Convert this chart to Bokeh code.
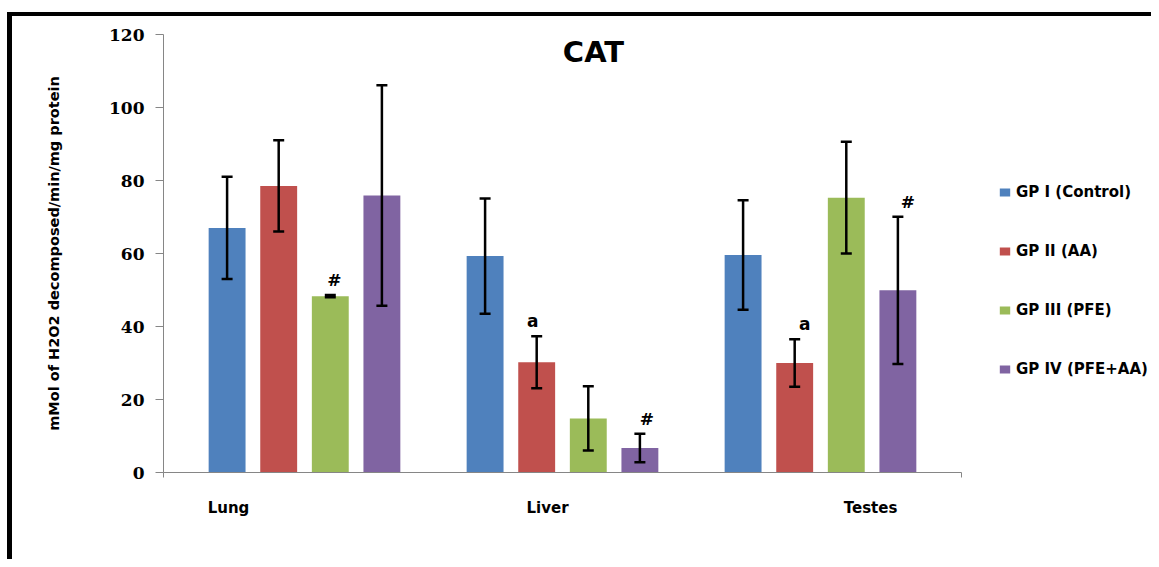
from bokeh.plotting import figure
from bokeh.models import (ColumnDataSource, Range1d, FixedTicker, Whisker, TeeHead,
                          Label, Legend, LegendItem, CustomJSTickFormatter)
from bokeh.embed import file_html
from bokeh.resources import INLINE

# ---- data ----
categories = ["Lung", "Liver", "Testes"]
groups = ["GP I (Control)", "GP II (AA)", "GP III (PFE)", "GP IV (PFE+AA)"]
means = {
    "GP I (Control)": [67.0, 59.3, 59.6],
    "GP II (AA)": [78.5, 30.2, 30.0],
    "GP III (PFE)": [48.3, 14.8, 75.3],
    "GP IV (PFE+AA)": [75.9, 6.7, 49.9],
}
errors = {
    "GP I (Control)": [14.0, 15.8, 15.0],
    "GP II (AA)": [12.5, 7.1, 6.5],
    "GP III (PFE)": [0.3, 8.8, 15.3],
    "GP IV (PFE+AA)": [30.2, 3.9, 20.2],
}
# significance markers: (category index, group index, symbol)
marker_cat = [0, 1, 1, 2, 2]
marker_grp = [2, 1, 3, 1, 3]
marker_txt = ["#", "a", "#", "a", "#"]
y_ticks = [0, 20, 40, 60, 80, 100, 120]

# ---- styles ----
colors = ["#4F81BD", "#C0504D", "#9BBB59", "#8064A2"]
grp_offsets = [-0.3, -0.1, 0.1, 0.3]
bar_w = 0.143
cat_label_shift = [-0.2946, -0.058, 0.194]
marker_dx = [4, -4, 7, 10, 10]
marker_font = ["DejaVu Serif", "DejaVu Sans", "DejaVu Serif", "DejaVu Sans", "DejaVu Serif"]
X0, X1 = -0.5465, 2.5465      # category axis extent
XF = 3.283                    # frame extends over the legend area

W, H = 1151, 559
p = figure(width=W, height=H, output_backend="svg", toolbar_location=None,
           x_range=Range1d(X0, XF), y_range=Range1d(0, 120),
           min_border_left=163, min_border_right=0, min_border_top=34,
           min_border_bottom=87)
p.outline_line_color = None
p.grid.visible = False
p.background_fill_color = None
p.border_fill_color = None
p.styles = {
    "background-color": "white",
    "background-image": "linear-gradient(#000,#000), linear-gradient(#000,#000)",
    "background-size": "1152px 4px, 5px 555px",
    "background-position": "7px 12px, 7px 12px",
    "background-repeat": "no-repeat",
}

legend_items = []
for gi, g in enumerate(groups):
    xs = [ci + grp_offsets[gi] for ci in range(len(categories))]
    src = ColumnDataSource(dict(x=xs, top=means[g],
                                upper=[m + e for m, e in zip(means[g], errors[g])],
                                lower=[m - e for m, e in zip(means[g], errors[g])]))
    r = p.vbar(x="x", top="top", width=bar_w, bottom=0, source=src,
               fill_color=colors[gi], line_color=None)
    legend_items.append(LegendItem(label=g, renderers=[r]))
    wh = Whisker(base="x", upper="upper", lower="lower", source=src, level="overlay",
                 line_color="black", line_width=2.5,
                 upper_head=TeeHead(size=11, line_width=2.5, line_color="black"),
                 lower_head=TeeHead(size=11, line_width=2.5, line_color="black"))
    p.add_layout(wh)

# significance markers
for i in range(len(marker_txt)):
    c, gi = marker_cat[i], marker_grp[i]
    g = groups[gi]
    p.add_layout(Label(x=c + grp_offsets[gi], y=means[g][c] + errors[g][c], text=marker_txt[i],
                       x_offset=marker_dx[i], y_offset=15, text_align="center",
                       text_baseline="middle", text_font=marker_font[i],
                       text_font_style="bold", text_font_size="17px", text_color="black"))

# axes
p.yaxis.ticker = FixedTicker(ticks=y_ticks)
p.yaxis.axis_line_color = "#868686"
p.yaxis.major_tick_line_color = "#868686"
p.yaxis.major_tick_out = 8
p.yaxis.major_tick_in = 0
p.yaxis.minor_tick_line_color = None
p.yaxis.major_label_text_font = "DejaVu Serif"
p.yaxis.major_label_text_font_style = "bold"
p.yaxis.major_label_text_font_size = "17px"
p.yaxis.major_label_text_color = "black"
p.yaxis.major_label_standoff = 11
p.yaxis.axis_label = "mMol of H2O2 decomposed/min/mg protein"
p.yaxis.axis_label_text_font = "DejaVu Sans"
p.yaxis.axis_label_text_font_style = "bold"
p.yaxis.axis_label_text_font_size = "14.5px"
p.yaxis.axis_label_text_color = "black"
p.yaxis.axis_label_standoff = 44

cat_ticks = [ci + cat_label_shift[ci] for ci in range(len(categories))]
p.xaxis.ticker = FixedTicker(ticks=cat_ticks, minor_ticks=[X0, X1])
p.xaxis.bounds = (X0, X1)
p.xaxis.formatter = CustomJSTickFormatter(args=dict(labels=categories),
                                          code="return labels[index]")
p.xaxis.axis_line_color = "#868686"
p.xaxis.major_tick_line_color = None
p.xaxis.minor_tick_line_color = "#868686"
p.xaxis.minor_tick_out = 5
p.xaxis.minor_tick_in = 0
p.xaxis.major_label_standoff = 20
p.xaxis.major_label_text_font = "DejaVu Sans"
p.xaxis.major_label_text_font_style = "bold"
p.xaxis.major_label_text_font_size = "15px"
p.xaxis.major_label_text_color = "black"

# title
p.add_layout(Label(x=430, y=421, x_units="screen", y_units="screen", text="CAT",
                   text_align="center", text_baseline="middle", text_font="DejaVu Sans",
                   text_font_style="bold", text_font_size="29px", text_color="black"))

legend = Legend(items=legend_items, location=(835, 93), orientation="vertical",
                glyph_width=13, glyph_height=10, label_standoff=5, label_height=20,
                spacing=39, padding=0, margin=0, border_line_color=None,
                background_fill_alpha=0, label_text_font="DejaVu Sans",
                label_text_font_style="bold", label_text_font_size="15px",
                label_text_color="black")
p.add_layout(legend, "center")

open("out.html", "w").write(file_html(p, INLINE))
